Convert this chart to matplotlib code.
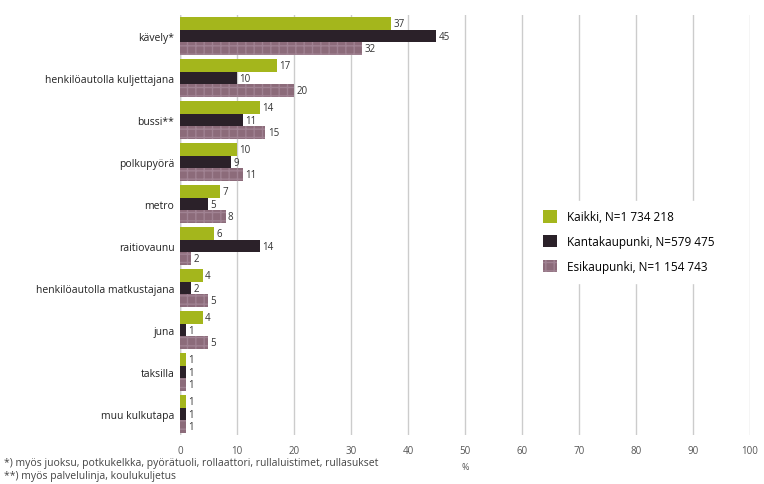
import numpy as np
import matplotlib.pyplot as plt

categories = ['kävely*', 'henkilöautolla kuljettajana', 'bussi**', 'polkupyörä', 'metro',
              'raitiovaunu', 'henkilöautolla matkustajana', 'juna', 'taksilla', 'muu kulkutapa']
kaikki = [37, 17, 14, 10, 7, 6, 4, 4, 1, 1]
kanta = [45, 10, 11, 9, 5, 14, 2, 1, 1, 1]
esi = [32, 20, 15, 11, 8, 2, 5, 5, 1, 1]
series_names = ['Kaikki, N=1 734 218', 'Kantakaupunki, N=579 475', 'Esikaupunki, N=1 154 743']
xticks = list(range(0, 101, 10))

plt.rcParams['font.family'] = ['Open Sans', 'DejaVu Sans']
fig = plt.figure(figsize=(7.64, 4.85), dpi=100)
ax = fig.add_axes([0.2356, 0.101, 0.746, 0.866])

y = np.arange(len(categories))
h = 0.3
colors = ['#a4b61c', '#2b2129', '#8c6b7a']
for i, (vals, col) in enumerate(zip([kaikki, kanta, esi], colors)):
    ax.barh(y + (i - 1) * h, vals, height=h, color=col, label=series_names[i],
            hatch='++' if i == 2 else None, edgecolor='#a08292' if i == 2 else col,
            linewidth=0, zorder=3)
    for yy, v in zip(y + (i - 1) * h, vals):
        ax.text(v + 0.4, yy, str(v), va='center', ha='left', fontsize=7,
                color='#333333', zorder=4)

ax.set_ylim(len(categories) - 0.5, -0.5)
ax.set_xlim(0, 100)
ax.set_yticks(y)
ax.set_yticklabels(categories, fontsize=7.5, color='#222222')
ax.set_xticks(xticks)
ax.set_xticklabels([str(t) for t in xticks], fontsize=7, color='#555555')
ax.tick_params(length=0, pad=7)
ax.tick_params(axis='y', pad=4)
ax.grid(axis='x', color='#cccccc', linewidth=1, zorder=0)
for s in ax.spines.values():
    s.set_visible(False)
ax.axvline(0, color='#bbbbbb', linewidth=1, zorder=1)

ax.text(50, -0.075, '%', transform=ax.get_xaxis_transform(), ha='center', va='center',
        fontsize=6.5, color='#555555')
fig.text(0.005, 0.045,
         '*) myös juoksu, potkukelkka, pyörätuoli, rollaattori, rullaluistimet, rullasukset',
         fontsize=7.5, color='#444444', va='center')
fig.text(0.005, 0.017, '**) myös palvelulinja, koulukuljetus',
         fontsize=7.5, color='#444444', va='center')

leg = ax.legend(loc='center left', bbox_to_anchor=(0.61, 0.46), frameon=True, fontsize=8.5,
                handlelength=1.2, handleheight=1.2, labelspacing=1.0, borderpad=0.8,
                handletextpad=0.8, edgecolor='white', facecolor='white', framealpha=1)
leg.set_zorder(5)

fig.savefig('out.png', dpi=100, facecolor='white')
